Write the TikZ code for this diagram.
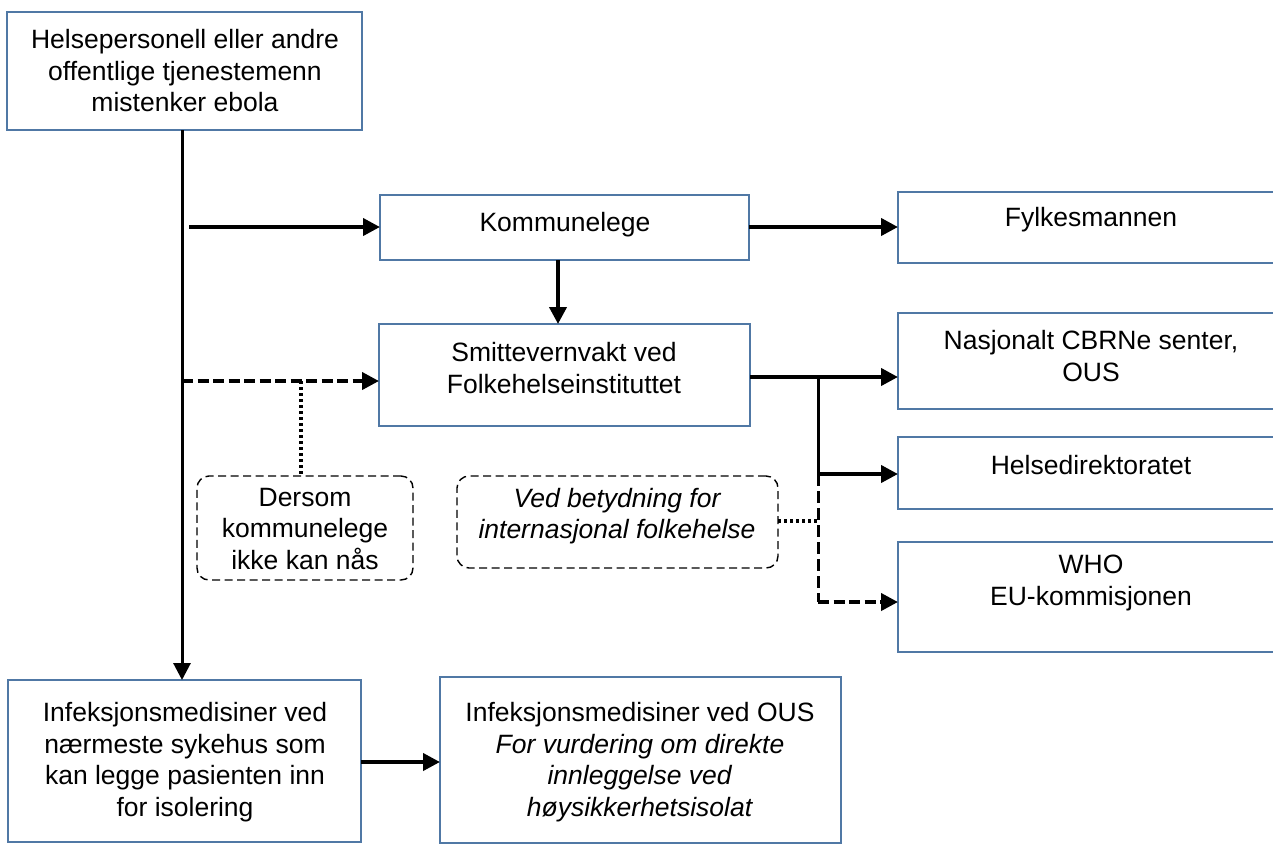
\documentclass[tikz,border=0pt]{standalone}
\usepackage{fontspec}
\setmainfont{Liberation Sans}
\usetikzlibrary{arrows.meta}
\definecolor{boxblue}{RGB}{80,120,165}
\begin{document}
\begin{tikzpicture}[x=1pt,y=-1pt,
  box/.style={draw=boxblue,line width=2.2pt,rectangle,inner sep=0pt,outer sep=0pt,anchor=north west},
  note/.style={draw=black,line width=1.4pt,dash pattern=on 8pt off 4.5pt,rounded corners=12pt,rectangle,inner sep=0pt,outer sep=0pt,anchor=north west},
  txt/.style={align=center,inner sep=0pt,font=\fontsize{26.5}{31.5}\selectfont},
  itxt/.style={txt,font=\fontsize{26.5}{31.5}\selectfont\itshape},
  tip/.style={-{Triangle[length=17pt,width=17pt]}},
  arr/.style={line width=4pt,tip},
  darr/.style={arr,dash pattern=on 11pt off 4.5pt},
  dotline/.style={line width=4pt,dash pattern=on 3pt off 3pt},
  dline/.style={line width=3pt,dash pattern=on 12pt off 5pt},
  sline/.style={line width=3pt}
]
\useasboundingbox (0,0) rectangle (1273,844);
\clip (0,0) rectangle (1273,844);
% boxes
\node[box,minimum width=355pt,minimum height=118pt] (top) at (7,12) {};
\node[box,minimum width=369pt,minimum height=65pt] (komm) at (380,195) {};
\node[box,minimum width=388pt,minimum height=71pt] (fylk) at (898,192) {};
\node[box,minimum width=371pt,minimum height=102pt] (smitte) at (379,324) {};
\node[box,minimum width=388pt,minimum height=96pt] (nasj) at (898,313) {};
\node[box,minimum width=388pt,minimum height=72pt] (helse) at (898,437) {};
\node[box,minimum width=388pt,minimum height=110pt] (who) at (898,542) {};
\node[box,minimum width=353pt,minimum height=162pt] (infek) at (8,680) {};
\node[box,minimum width=401pt,minimum height=166pt] (ous) at (440,677) {};
\node[note,minimum width=216pt,minimum height=104pt] (dersom) at (197,476) {};
\node[note,minimum width=321pt,minimum height=92pt] (ved) at (457,476) {};
% texts
\node[txt] (ttop) at (185,71) {Helsepersonell eller andre\\offentlige tjenestemenn\\mistenker ebola};
\node[txt] (tkomm) at (565,225) {Kommunelege};
\node[txt] (tfylk) at (1091,220) {Fylkesmannen};
\node[txt] (tsmitte) at (564,368) {Smittevernvakt ved\\Folkehelseinstituttet};
\node[txt] (tnasj) at (1091,356) {Nasjonalt CBRNe senter,\\OUS};
\node[txt] (thelse) at (1091,465) {Helsedirektoratet};
\node[txt] (twho) at (1091,583) {WHO\\EU-kommisjonen};
\node[txt] (tinfek) at (185,762) {Infeksjonsmedisiner ved\\nærmeste sykehus som\\kan legge pasienten inn\\for isolering};
\node[txt] (tous) at (640,762) {Infeksjonsmedisiner ved OUS\\\textit{For vurdering om direkte}\\\textit{innleggelse ved}\\\textit{høysikkerhetsisolat}};
\node[txt] (tdersom) at (305,529) {Dersom\\kommunelege\\ikke kan nås};
\node[itxt] (tved) at (617,516) {Ved betydning for\\internasjonal folkehelse};
% connectors
\coordinate (v0) at (182,130);
\draw[sline,tip] (v0) -- (v0 |- infek.north);
\coordinate (k0) at (189,227);
\draw[arr] (k0) -- (k0 -| komm.west);
\coordinate (f0) at (749,227);
\draw[arr] (f0) -- (f0 -| fylk.west);
\coordinate (s0) at (558,260);
\draw[arr] (s0) -- (s0 |- smitte.north);
\coordinate (d0) at (182,381);
\draw[darr] (d0) -- (d0 -| smitte.west);
\coordinate (d1) at (301,381);
\draw[dotline] (d1) -- (d1 |- dersom.north);
\coordinate (b0) at (750,377);
\coordinate (b1) at (818,377);
\coordinate (b2) at (818,474);
\coordinate (b3) at (818,602);
\draw[arr] (b0) -- (b0 -| nasj.west);
\draw[sline] (b1) -- (b2);
\draw[arr] (b2) -- (b2 -| helse.west);
\draw[dline] (b2) -- (b3);
\draw[darr] (b3) -- (b3 -| who.west);
\coordinate (w0) at (778,521);
\draw[dotline] (w0) -- (818,521);
\coordinate (i0) at (361,762);
\draw[arr] (i0) -- (i0 -| ous.west);
\end{tikzpicture}
\end{document}
